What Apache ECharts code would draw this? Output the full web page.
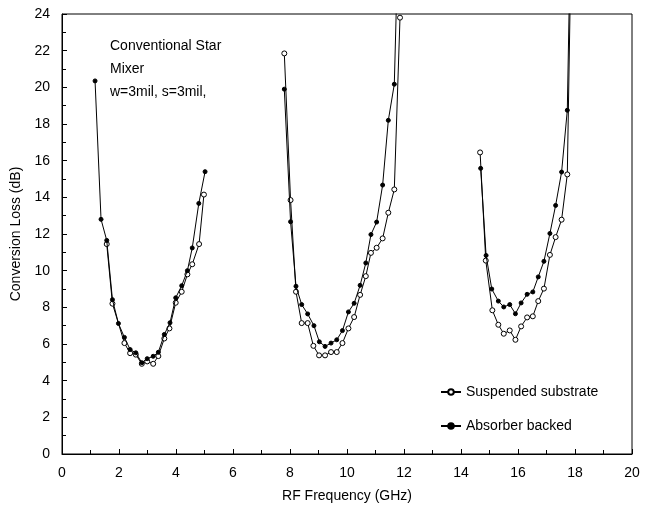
<!DOCTYPE html>
<html>
<head>
<meta charset="utf-8">
<script src="https://cdn.jsdelivr.net/npm/echarts@6/dist/echarts.min.js"></script>
<style>
  html, body { margin: 0; padding: 0; background: #fff; }
  #chart { width: 647px; height: 510px; }
</style>
</head>
<body>
<div id="chart"></div>
<script>
// 数据：三个频段，每段两条曲线（悬置基片 / 吸收体背衬）
const suspFreq1 = [1.57, 1.77, 2.19, 2.39, 2.59, 2.8, 2.99, 3.2, 3.38, 3.59, 3.77, 3.99, 4.2, 4.4, 4.57, 4.81, 4.98]
const suspLoss1 = [11.45, 8.2, 6.05, 5.5, 5.42, 4.92, 5.05, 4.92, 5.34, 6.3, 6.85, 8.25, 8.85, 9.8, 10.35, 11.45, 14.15]
const absFreq1 = [1.16, 1.37, 1.57, 1.77, 1.98, 2.19, 2.39, 2.59, 2.8, 2.99, 3.2, 3.38, 3.59, 3.79, 3.99, 4.2, 4.4, 4.57, 4.8, 5.02]
const absLoss1 = [20.35, 12.8, 11.65, 8.42, 7.12, 6.36, 5.7, 5.52, 4.98, 5.2, 5.33, 5.55, 6.52, 7.16, 8.52, 9.18, 10.0, 11.24, 13.67, 15.4]

const suspFreq2 = [7.8, 8.02, 8.21, 8.41, 8.62, 8.82, 9.02, 9.23, 9.44, 9.64, 9.84, 10.05, 10.25, 10.46, 10.66, 10.84, 11.04, 11.25, 11.45, 11.66, 11.86]
const suspLoss2 = [21.85, 13.85, 8.85, 7.14, 7.14, 5.9, 5.38, 5.38, 5.56, 5.56, 6.05, 6.85, 7.47, 8.68, 9.7, 10.97, 11.25, 11.76, 13.16, 14.43, 23.8]
const absFreq2 = [7.8, 8.02, 8.21, 8.41, 8.62, 8.84, 9.03, 9.23, 9.44, 9.64, 9.84, 10.05, 10.25, 10.46, 10.66, 10.84, 11.04, 11.25, 11.45, 11.66, 11.86]
const absLoss2 = [19.9, 12.67, 9.15, 8.15, 7.64, 7.0, 6.12, 5.87, 6.05, 6.23, 6.73, 7.75, 8.22, 9.2, 10.42, 11.97, 12.65, 14.67, 18.2, 20.17, 32]

const suspFreq3 = [14.67, 14.87, 15.1, 15.31, 15.5, 15.71, 15.91, 16.11, 16.32, 16.52, 16.71, 16.91, 17.12, 17.32, 17.53, 17.73, 17.93]
const suspLoss3 = [16.45, 10.55, 7.84, 7.05, 6.56, 6.74, 6.23, 6.96, 7.45, 7.51, 8.34, 9.02, 10.86, 11.83, 12.78, 15.25, 34]
const absFreq3 = [14.69, 14.88, 15.08, 15.31, 15.5, 15.71, 15.91, 16.11, 16.32, 16.52, 16.71, 16.91, 17.12, 17.32, 17.53, 17.73, 17.93]
const absLoss3 = [15.58, 10.83, 9.0, 8.34, 8.02, 8.15, 7.65, 8.24, 8.71, 8.84, 9.66, 10.51, 12.03, 13.56, 15.38, 18.75, 36]

const xTicks = [0, 2, 4, 6, 8, 10, 12, 14, 16, 18, 20]
const yTicks = [0, 2, 4, 6, 8, 10, 12, 14, 16, 18, 20, 22, 24]

// 把各频段拼成一条序列，中间用 null 断开
const joinGroups = (groups) => {
  const out = []
  groups.forEach(([fs, ls], gi) => {
    if (gi > 0) out.push([null, null])
    fs.forEach((f, i) => out.push([f, ls[i]]))
  })
  return out
}

const suspData = joinGroups([[suspFreq1, suspLoss1], [suspFreq2, suspLoss2], [suspFreq3, suspLoss3]])
const absData = joinGroups([[absFreq1, absLoss1], [absFreq2, absLoss2], [absFreq3, absLoss3]])

const font = 'Liberation Sans, Arial, sans-serif'
const chart = echarts.init(document.getElementById('chart'))

chart.setOption({
  animation: false,
  grid: {
    left: 62, right: 15, top: 14, bottom: 56,
    show: true, borderColor: '#000', borderWidth: 1
  },
  legend: {
    orient: 'vertical',
    left: 435, top: 380,
    itemGap: 20, itemWidth: 20, itemHeight: 7,
    textStyle: { fontFamily: font, fontSize: 14, color: '#000' },
    data: ['Suspended substrate', 'Absorber backed']
  },
  graphic: [{
    type: 'text', left: 110, top: 35,
    style: {
      text: 'Conventional Star\nMixer\nw=3mil, s=3mil,',
      fontFamily: font, fontSize: 14, lineHeight: 23, fill: '#000'
    }
  }],
  xAxis: {
    type: 'value', min: 0, max: 20, interval: 2,
    name: 'RF Frequency (GHz)', nameLocation: 'middle', nameGap: 35,
    nameTextStyle: { fontFamily: font, fontSize: 14, color: '#000' },
    axisLine: { lineStyle: { color: '#000' } },
    axisTick: { inside: true, length: 5, lineStyle: { color: '#000' } },
    minorTick: { show: true, splitNumber: 2, length: 4, lineStyle: { color: '#000' } },
    axisLabel: {
      margin: 12, fontFamily: font, fontSize: 14, color: '#000',
      formatter: (v) => (xTicks.includes(v) ? String(v) : '')
    },
    splitLine: { show: false }
  },
  yAxis: {
    type: 'value', min: 0, max: 24, interval: 2,
    name: 'Conversion Loss (dB)', nameLocation: 'middle', nameGap: 33,
    nameTextStyle: { fontFamily: font, fontSize: 14, color: '#000' },
    axisLine: { show: true, lineStyle: { color: '#000' } },
    axisTick: { show: true, inside: true, length: 5, lineStyle: { color: '#000' } },
    minorTick: { show: true, splitNumber: 2, length: 4, lineStyle: { color: '#000' } },
    axisLabel: {
      margin: 12, fontFamily: font, fontSize: 14, color: '#000',
      formatter: (v) => (yTicks.includes(v) ? String(v) : '')
    },
    splitLine: { show: false }
  },
  series: [
    {
      name: 'Suspended substrate',
      type: 'line',
      data: suspData,
      connectNulls: false,
      clip: true,
      symbol: 'circle',
      symbolSize: 5,
      lineStyle: { color: '#000', width: 1 },
      itemStyle: { color: '#fff', borderColor: '#000', borderWidth: 1 },
      z: 2
    },
    {
      name: 'Absorber backed',
      type: 'line',
      data: absData,
      connectNulls: false,
      clip: true,
      symbol: 'circle',
      symbolSize: 4,
      lineStyle: { color: '#000', width: 1 },
      itemStyle: { color: '#000', borderColor: '#000', borderWidth: 1 },
      z: 3
    }
  ]
})
</script>
</body>
</html>
